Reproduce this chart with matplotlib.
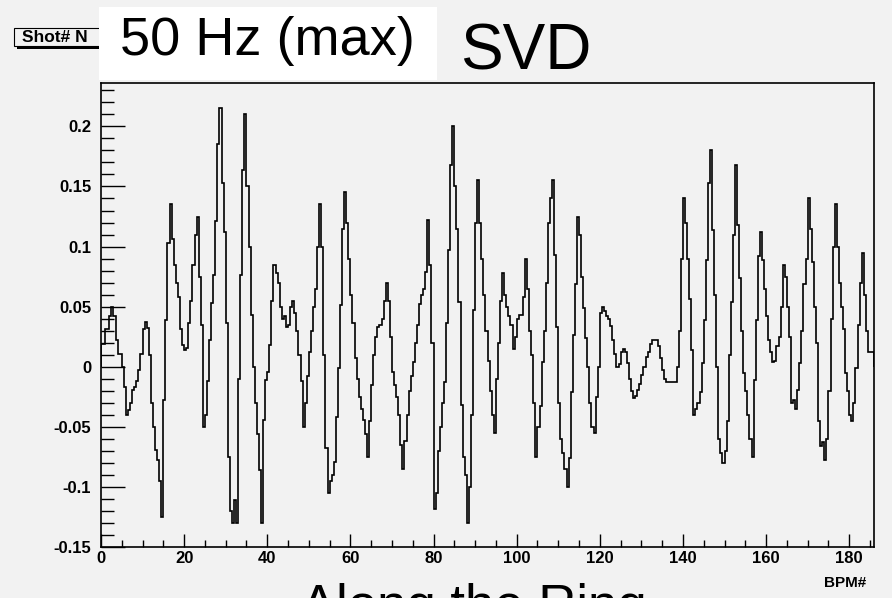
import numpy as np
import matplotlib.pyplot as plt
from matplotlib.patches import Rectangle
from matplotlib.ticker import MultipleLocator

plt.rcParams['font.family'] = ['Liberation Sans', 'DejaVu Sans']

# orbit offset of the 50 Hz SVD mode in half-BPM bins
bins_000_023 = [0.019, 0.019, 0.031, 0.031, 0.042, 0.05, 0.042, 0.022, 0.011, 0.011,
                0.0, -0.017, -0.04, -0.036, -0.03, -0.019, -0.017, -0.012, -0.003, 0.011,
                0.031, 0.037, 0.032, 0.01, -0.03, -0.05, -0.069, -0.078, -0.095, -0.125,
                -0.028, 0.039, 0.103, 0.135, 0.106, 0.085, 0.07, 0.058, 0.031, 0.018,
                0.014, 0.016, 0.036, 0.055, 0.085, 0.11]
bins_023_047 = [0.125, 0.075, 0.035, -0.05, -0.04, -0.012, 0.022, 0.053, 0.076, 0.121,
                0.185, 0.215, 0.153, 0.112, 0.036, -0.075, -0.12, -0.13, -0.111, -0.13,
                -0.01, 0.076, 0.164, 0.21, 0.15, 0.1, 0.043, 0.0, -0.03, -0.056,
                -0.086, -0.13, -0.044, -0.011, -0.004, 0.018, 0.055, 0.085, 0.078, 0.07,
                0.05, 0.04, 0.042, 0.033, 0.035, 0.05, 0.055, 0.045]
bins_047_071 = [0.03, 0.01, -0.012, -0.05, -0.03, -0.008, 0.012, 0.03, 0.05, 0.065,
                0.1, 0.135, 0.1, 0.01, -0.068, -0.105, -0.095, -0.09, -0.079, -0.042,
                -0.001, 0.051, 0.115, 0.145, 0.12, 0.09, 0.06, 0.036, 0.007, -0.01,
                -0.025, -0.035, -0.044, -0.056, -0.075, -0.045, -0.015, 0.01, 0.025, 0.033,
                0.035, 0.04, 0.055, 0.07, 0.055, 0.025, -0.004, -0.015, -0.025]
bins_071_095 = [-0.04, -0.065, -0.085, -0.062, -0.04, -0.02, -0.008, 0.004, 0.02, 0.035,
                0.052, 0.06, 0.065, 0.079, 0.122, 0.085, 0.02, -0.118, -0.105, -0.07,
                -0.05, -0.03, -0.0125, 0.036, 0.097, 0.168, 0.2, 0.15, 0.115, 0.054,
                -0.032, -0.075, -0.09, -0.13, -0.1, -0.04, 0.047, 0.12, 0.155, 0.12,
                0.09, 0.06, 0.03, 0.005, -0.02, -0.04, -0.055]
bins_095_119 = [-0.01, 0.02, 0.055, 0.078, 0.06, 0.05, 0.042, 0.035, 0.015, 0.025,
                0.04, 0.043, 0.043, 0.058, 0.09, 0.065, 0.03, 0.01, -0.03, -0.075,
                -0.05, -0.033, 0.004, 0.03, 0.07, 0.12, 0.14, 0.155, 0.093, 0.033,
                -0.03, -0.06, -0.072, -0.085, -0.1, -0.076, -0.021, 0.026, 0.069, 0.125,
                0.11, 0.075, 0.049, 0.024, 0.0, -0.03, -0.05, -0.055]
bins_119_143 = [-0.025, 0.0, 0.045, 0.05, 0.046, 0.042, 0.04, 0.034, 0.022, 0.011,
                0.0, 0.002, 0.012, 0.015, 0.012, 0.003, -0.01, -0.02, -0.026, -0.024,
                -0.019, -0.014, -0.007, 0.0, 0.008, 0.012, 0.019, 0.022, 0.022, 0.022,
                0.017, 0.007, -0.003, -0.01, -0.013, -0.013, -0.013, -0.013, -0.013, 0.0,
                0.03, 0.09, 0.14, 0.12, 0.09, 0.056, 0.014, -0.04, -0.035]
bins_143_167 = [-0.03, -0.021, 0.003, 0.039, 0.089, 0.153, 0.18, 0.114, 0.06, 0.0,
                -0.06, -0.072, -0.08, -0.07, -0.045, 0.01, 0.054, 0.11, 0.168, 0.118,
                0.074, 0.03, -0.005, -0.02, -0.04, -0.06, -0.075, -0.011, 0.039, 0.092,
                0.112, 0.089, 0.065, 0.042, 0.022, 0.012, 0.004, 0.005, 0.017, 0.025,
                0.05, 0.085, 0.075, 0.05, 0.025, -0.03, -0.028]
bins_167_186 = [-0.035, -0.019, 0.003, 0.03, 0.069, 0.09, 0.14, 0.115, 0.0875, 0.05,
                0.02, -0.045, -0.066, -0.0625, -0.078, -0.06, -0.02, 0.04, 0.1, 0.135,
                0.1, 0.07, 0.05, 0.031, -0.005, -0.02, -0.04, -0.045, -0.03, -0.001,
                0.035, 0.07, 0.095, 0.06, 0.03, 0.012, 0.012, 0.012]

bpm_edges = np.arange(0, 186.5, 0.5)
offsets = np.concatenate([bins_000_023, bins_023_047, bins_047_071, bins_071_095,
                          bins_095_119, bins_119_143, bins_143_167, bins_167_186])

x_ticks = [0, 20, 40, 60, 80, 100, 120, 140, 160, 180]
y_ticks = [-0.15, -0.1, -0.05, 0, 0.05, 0.1, 0.15, 0.2]
y_labels = ['-0.15', '-0.1', '-0.05', '0', '0.05', '0.1', '0.15', '0.2']

bg = '#f2f2f2'
fig = plt.figure(figsize=(8.92, 5.98), dpi=100, facecolor=bg)
ax = fig.add_axes([0.1132, 0.0853, 0.8668, 0.7757])
ax.set_facecolor(bg)

ax.stairs(offsets, bpm_edges, color='black', lw=1.2)

ax.set_xlim(0, 186)
ax.set_ylim(-0.15, 0.236)
ax.set_xticks(x_ticks)
ax.set_xticklabels([str(t) for t in x_ticks], fontweight='bold', fontsize=12)
ax.set_yticks(y_ticks)
ax.set_yticklabels(y_labels, fontweight='bold', fontsize=12)
ax.xaxis.set_minor_locator(MultipleLocator(5))
ax.yaxis.set_minor_locator(MultipleLocator(0.01))

ax.tick_params(axis='x', which='major', direction='in', length=9.5, width=1, pad=3)
ax.tick_params(axis='x', which='minor', direction='in', length=5, width=1)
ax.tick_params(axis='y', which='major', direction='in', length=17, width=1, pad=7)
ax.tick_params(axis='y', which='minor', direction='in', length=9.5, width=1)
for s in ax.spines.values():
    s.set_linewidth(1.2)

fig.text(0.971, 0.018, 'BPM#', ha='right', va='baseline', fontsize=11, fontweight='bold')

# ROOT title box, partly hidden by the white label
fig.add_artist(Rectangle((17 / 892, 1 - 49 / 598), 96 / 892, 18 / 598,
                         transform=fig.transFigure, facecolor='black', zorder=2))
fig.add_artist(Rectangle((14 / 892, 1 - 46 / 598), 96 / 892, 18 / 598,
                         transform=fig.transFigure, facecolor=bg, edgecolor='black',
                         lw=0.8, zorder=2.5))
fig.text(22 / 892, 1 - 37 / 598, 'Shot# N', va='center', fontsize=12.5, fontweight='bold', zorder=3)

fig.add_artist(Rectangle((99 / 892, 1 - 80 / 598), 338 / 892, 73 / 598,
                         transform=fig.transFigure, facecolor='white', edgecolor='none', zorder=4))
fig.text(120 / 892, 1 - 55 / 598, '50 Hz (max)', va='baseline', fontsize=39, zorder=5)
fig.text(460 / 892, 1 - 70 / 598, 'SVD', va='baseline', fontsize=46, zorder=5)
fig.text(301 / 892, 1 - 622 / 598, 'Along the Ring', va='baseline', fontsize=38, zorder=5)

plt.savefig('out.png', dpi=100, facecolor=bg)
